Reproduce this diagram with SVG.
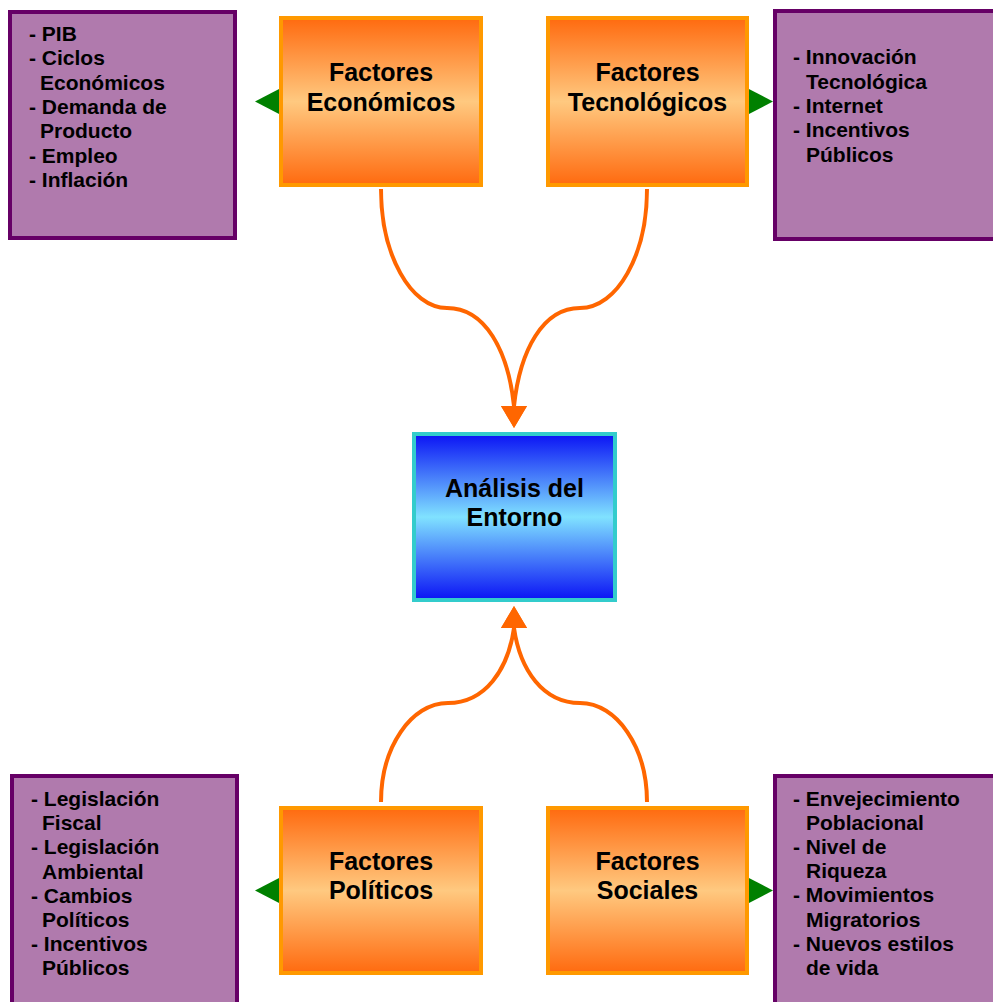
<svg xmlns="http://www.w3.org/2000/svg" width="993" height="1002" viewBox="0 0 993 1002">
  <defs>
    <linearGradient id="gOrange" x1="0" y1="0" x2="0" y2="1">
      <stop offset="0" stop-color="#FF6A0F"/>
      <stop offset="0.5" stop-color="#FFC980"/>
      <stop offset="1" stop-color="#FF6A0F"/>
    </linearGradient>
    <linearGradient id="gBlue" x1="0" y1="0" x2="0" y2="1">
      <stop offset="0" stop-color="#0A12F5"/>
      <stop offset="0.5" stop-color="#80E2FF"/>
      <stop offset="1" stop-color="#0A12F5"/>
    </linearGradient>
    <marker id="arrowDown" markerUnits="userSpaceOnUse" viewBox="0 0 22 26" markerWidth="22" markerHeight="26" refX="0" refY="13" orient="90">
      <path d="M0 0 L22 13 L0 26 Z" fill="#FF6600"/>
    </marker>
    <marker id="arrowUp" markerUnits="userSpaceOnUse" viewBox="0 0 22 26" markerWidth="22" markerHeight="26" refX="0" refY="13" orient="270">
      <path d="M0 0 L22 13 L0 26 Z" fill="#FF6600"/>
    </marker>
    <marker id="arrowGreen" markerUnits="userSpaceOnUse" viewBox="0 0 25 26" markerWidth="25" markerHeight="26" refX="0" refY="13" orient="auto">
      <path d="M0 0 L25 13 L0 26 Z" fill="#008000"/>
    </marker>
  </defs>
  <style>
    .factor { fill: url(#gOrange); stroke: #FF9900; stroke-width: 4; }
    .center { fill: url(#gBlue); stroke: #33CCCC; stroke-width: 4; }
    .detail { fill: #B07AAD; stroke: #660066; stroke-width: 4; }
    .title { font-family: "Liberation Sans", Arial, sans-serif; font-weight: bold; font-size: 25px; fill: #000; text-anchor: middle; }
    .list { font-family: "Liberation Sans", Arial, sans-serif; font-weight: bold; font-size: 21px; fill: #000; }
    .flow { fill: none; stroke: #FF6600; stroke-width: 4; }
    .side { fill: none; stroke: #008000; stroke-width: 4; }
  </style>

  <!-- connectors -->
  <g id="connectors">
    <path class="flow" d="M381 189 C381 254.7 410.6 308 447 308 C485 308 508 350 514 406" marker-end="url(#arrowDown)"/>
    <path class="flow" d="M647 189 C647 254.7 617.4 308 580 308 C543 308 520 350 514 406" marker-end="url(#arrowDown)"/>
    <path class="flow" d="M381 802 C381 747.4 411 703 448 703 C485 703 508 670 514 628" marker-end="url(#arrowUp)"/>
    <path class="flow" d="M647 802 C647 747.4 617 703 580 703 C543 703 520 670 514 628" marker-end="url(#arrowUp)"/>
    <path class="side" d="M283 101.5 H280" marker-end="url(#arrowGreen)"/>
    <path class="side" d="M745 101.5 H748" marker-end="url(#arrowGreen)"/>
    <path class="side" d="M283 890.5 H280" marker-end="url(#arrowGreen)"/>
    <path class="side" d="M745 890.5 H748" marker-end="url(#arrowGreen)"/>
  </g>

  <!-- economic factors -->
  <g id="factores-economicos">
    <rect class="factor" x="281" y="18" width="200" height="167"/>
    <text class="title" x="381" y="81">Factores</text>
    <text class="title" x="381" y="110.5">Económicos</text>
  </g>
  <g id="detalle-economicos">
    <rect class="detail" x="10" y="12" width="225" height="226"/>
    <text class="list">
      <tspan x="29" y="41">- PIB</tspan>
      <tspan x="29" y="65.3">- Ciclos</tspan>
      <tspan x="40" y="89.6">Económicos</tspan>
      <tspan x="29" y="113.9">- Demanda de</tspan>
      <tspan x="40" y="138.2">Producto</tspan>
      <tspan x="29" y="162.5">- Empleo</tspan>
      <tspan x="29" y="186.8">- Inflación</tspan>
    </text>
  </g>

  <!-- technological factors -->
  <g id="factores-tecnologicos">
    <rect class="factor" x="548" y="18" width="199" height="167"/>
    <text class="title" x="647.5" y="81">Factores</text>
    <text class="title" x="647.5" y="110.5">Tecnológicos</text>
  </g>
  <g id="detalle-tecnologicos">
    <rect class="detail" x="775" y="11" width="260" height="228"/>
    <text class="list">
      <tspan x="793" y="64.3">- Innovación</tspan>
      <tspan x="806" y="88.6">Tecnológica</tspan>
      <tspan x="793" y="112.9">- Internet</tspan>
      <tspan x="793" y="137.2">- Incentivos</tspan>
      <tspan x="806" y="161.5">Públicos</tspan>
    </text>
  </g>

  <!-- central node -->
  <g id="analisis-entorno">
    <rect class="center" x="414" y="434" width="201" height="166"/>
    <text class="title" x="514.5" y="497">Análisis del</text>
    <text class="title" x="514.5" y="526">Entorno</text>
  </g>

  <!-- political factors -->
  <g id="factores-politicos">
    <rect class="factor" x="281" y="808" width="200" height="165"/>
    <text class="title" x="381" y="870">Factores</text>
    <text class="title" x="381" y="898.5">Políticos</text>
  </g>
  <g id="detalle-politicos">
    <rect class="detail" x="12" y="776" width="225" height="260"/>
    <text class="list">
      <tspan x="31" y="806">- Legislación</tspan>
      <tspan x="42" y="830.2">Fiscal</tspan>
      <tspan x="31" y="854.4">- Legislación</tspan>
      <tspan x="42" y="878.6">Ambiental</tspan>
      <tspan x="31" y="902.8">- Cambios</tspan>
      <tspan x="42" y="927">Políticos</tspan>
      <tspan x="31" y="951.2">- Incentivos</tspan>
      <tspan x="42" y="975.4">Públicos</tspan>
    </text>
  </g>

  <!-- social factors -->
  <g id="factores-sociales">
    <rect class="factor" x="548" y="808" width="199" height="165"/>
    <text class="title" x="647.5" y="870">Factores</text>
    <text class="title" x="647.5" y="898.5">Sociales</text>
  </g>
  <g id="detalle-sociales">
    <rect class="detail" x="775" y="776" width="260" height="260"/>
    <text class="list">
      <tspan x="793" y="805.5">- Envejecimiento</tspan>
      <tspan x="806" y="829.7">Poblacional</tspan>
      <tspan x="793" y="853.9">- Nivel de</tspan>
      <tspan x="806" y="878.1">Riqueza</tspan>
      <tspan x="793" y="902.3">- Movimientos</tspan>
      <tspan x="806" y="926.5">Migratorios</tspan>
      <tspan x="793" y="950.7">- Nuevos estilos</tspan>
      <tspan x="806" y="974.9">de vida</tspan>
    </text>
  </g>
</svg>
